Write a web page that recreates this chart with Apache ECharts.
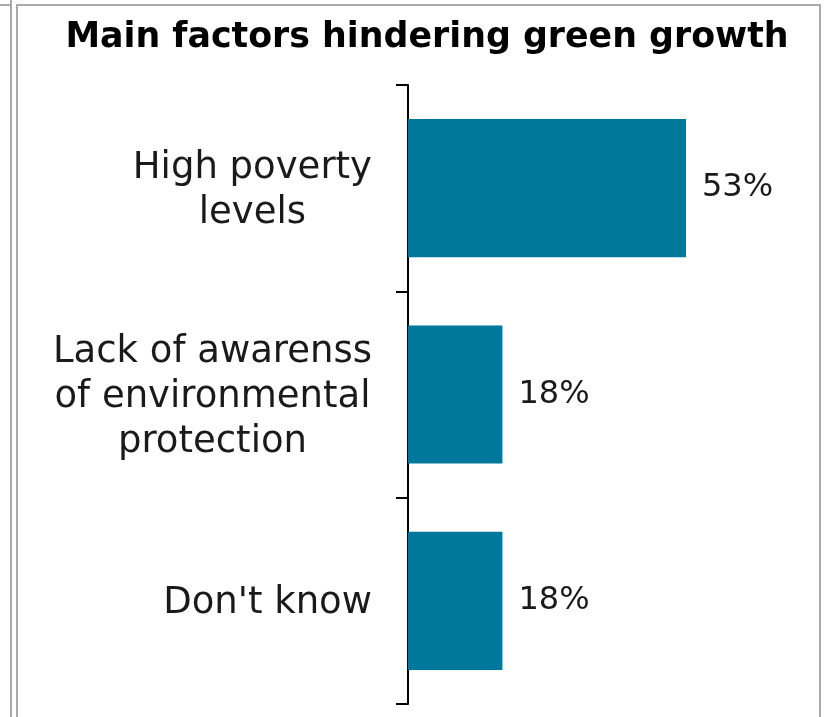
<!DOCTYPE html>
<html>
<head>
<meta charset="utf-8">
<script src="https://cdn.jsdelivr.net/npm/echarts@6/dist/echarts.min.js"></script>
<style>html,body{margin:0;padding:0;background:#fff}#c{width:828px;height:717px}</style>
</head>
<body>
<div id="c"></div>
<script>
const categories = ["High poverty\nlevels", "Lack of awarenss\nof environmental\nprotection", "Don't know"];
const values = [53, 18, 18];
const titleText = "Main factors hindering green growth";

const chart = echarts.init(document.getElementById('c'), null, {renderer: 'canvas'});
const FONT = "'DejaVu Sans', sans-serif";
const labelStyle = {fontFamily: FONT, fontSize: 37, lineHeight: 45, color: '#1a1a1a', align: 'center'};
chart.setOption({
  animation: false,
  title: {
    text: titleText, left: 422, top: 15, textAlign: 'center',
    textStyle: {fontFamily: FONT, fontWeight: 'bold', fontSize: 34.8, color: '#000'}
  },
  grid: {left: 408, top: 85, width: 314.7, bottom: 13, containLabel: false},
  xAxis: {type: 'value', min: 0, max: 60, show: false},
  yAxis: {
    type: 'category', data: categories, inverse: true,
    axisLine: {show: true, lineStyle: {color: '#000', width: 2}},
    axisTick: {show: true, length: 12, alignWithLabel: false, lineStyle: {color: '#000', width: 2}},
    axisLabel: {
      margin: 36, fontFamily: FONT, fontSize: 37, lineHeight: 45, color: '#1a1a1a', align: 'right',
      padding: [6, 0, 0, 0],
      formatter: v => v.split('\n').map(s => '{c|' + s + '}').join('\n'),
      rich: {c: labelStyle}
    }
  },
  series: [{
    type: 'bar', data: values, barCategoryGap: '33%',
    itemStyle: {color: '#00789C'},
    label: {show: true, position: 'right', distance: 16, formatter: '{c}%', fontFamily: FONT, fontSize: 32, color: '#1a1a1a', padding: [4, 0, 0, 0]}
  }],
  graphic: [
    {type: 'line', shape: {x1: 11, y1: 0, x2: 11, y2: 717}, style: {stroke: '#aaa', lineWidth: 2}},
    {type: 'line', shape: {x1: 0, y1: 5, x2: 11, y2: 5}, style: {stroke: '#aaa', lineWidth: 2}},
    {type: 'line', shape: {x1: 17, y1: 4, x2: 17, y2: 717}, style: {stroke: '#aaa', lineWidth: 2}},
    {type: 'line', shape: {x1: 16, y1: 5, x2: 821, y2: 5}, style: {stroke: '#aaa', lineWidth: 2}},
    {type: 'line', shape: {x1: 820, y1: 4, x2: 820, y2: 717}, style: {stroke: '#aaa', lineWidth: 2}}
  ]
});
</script>
</body>
</html>
